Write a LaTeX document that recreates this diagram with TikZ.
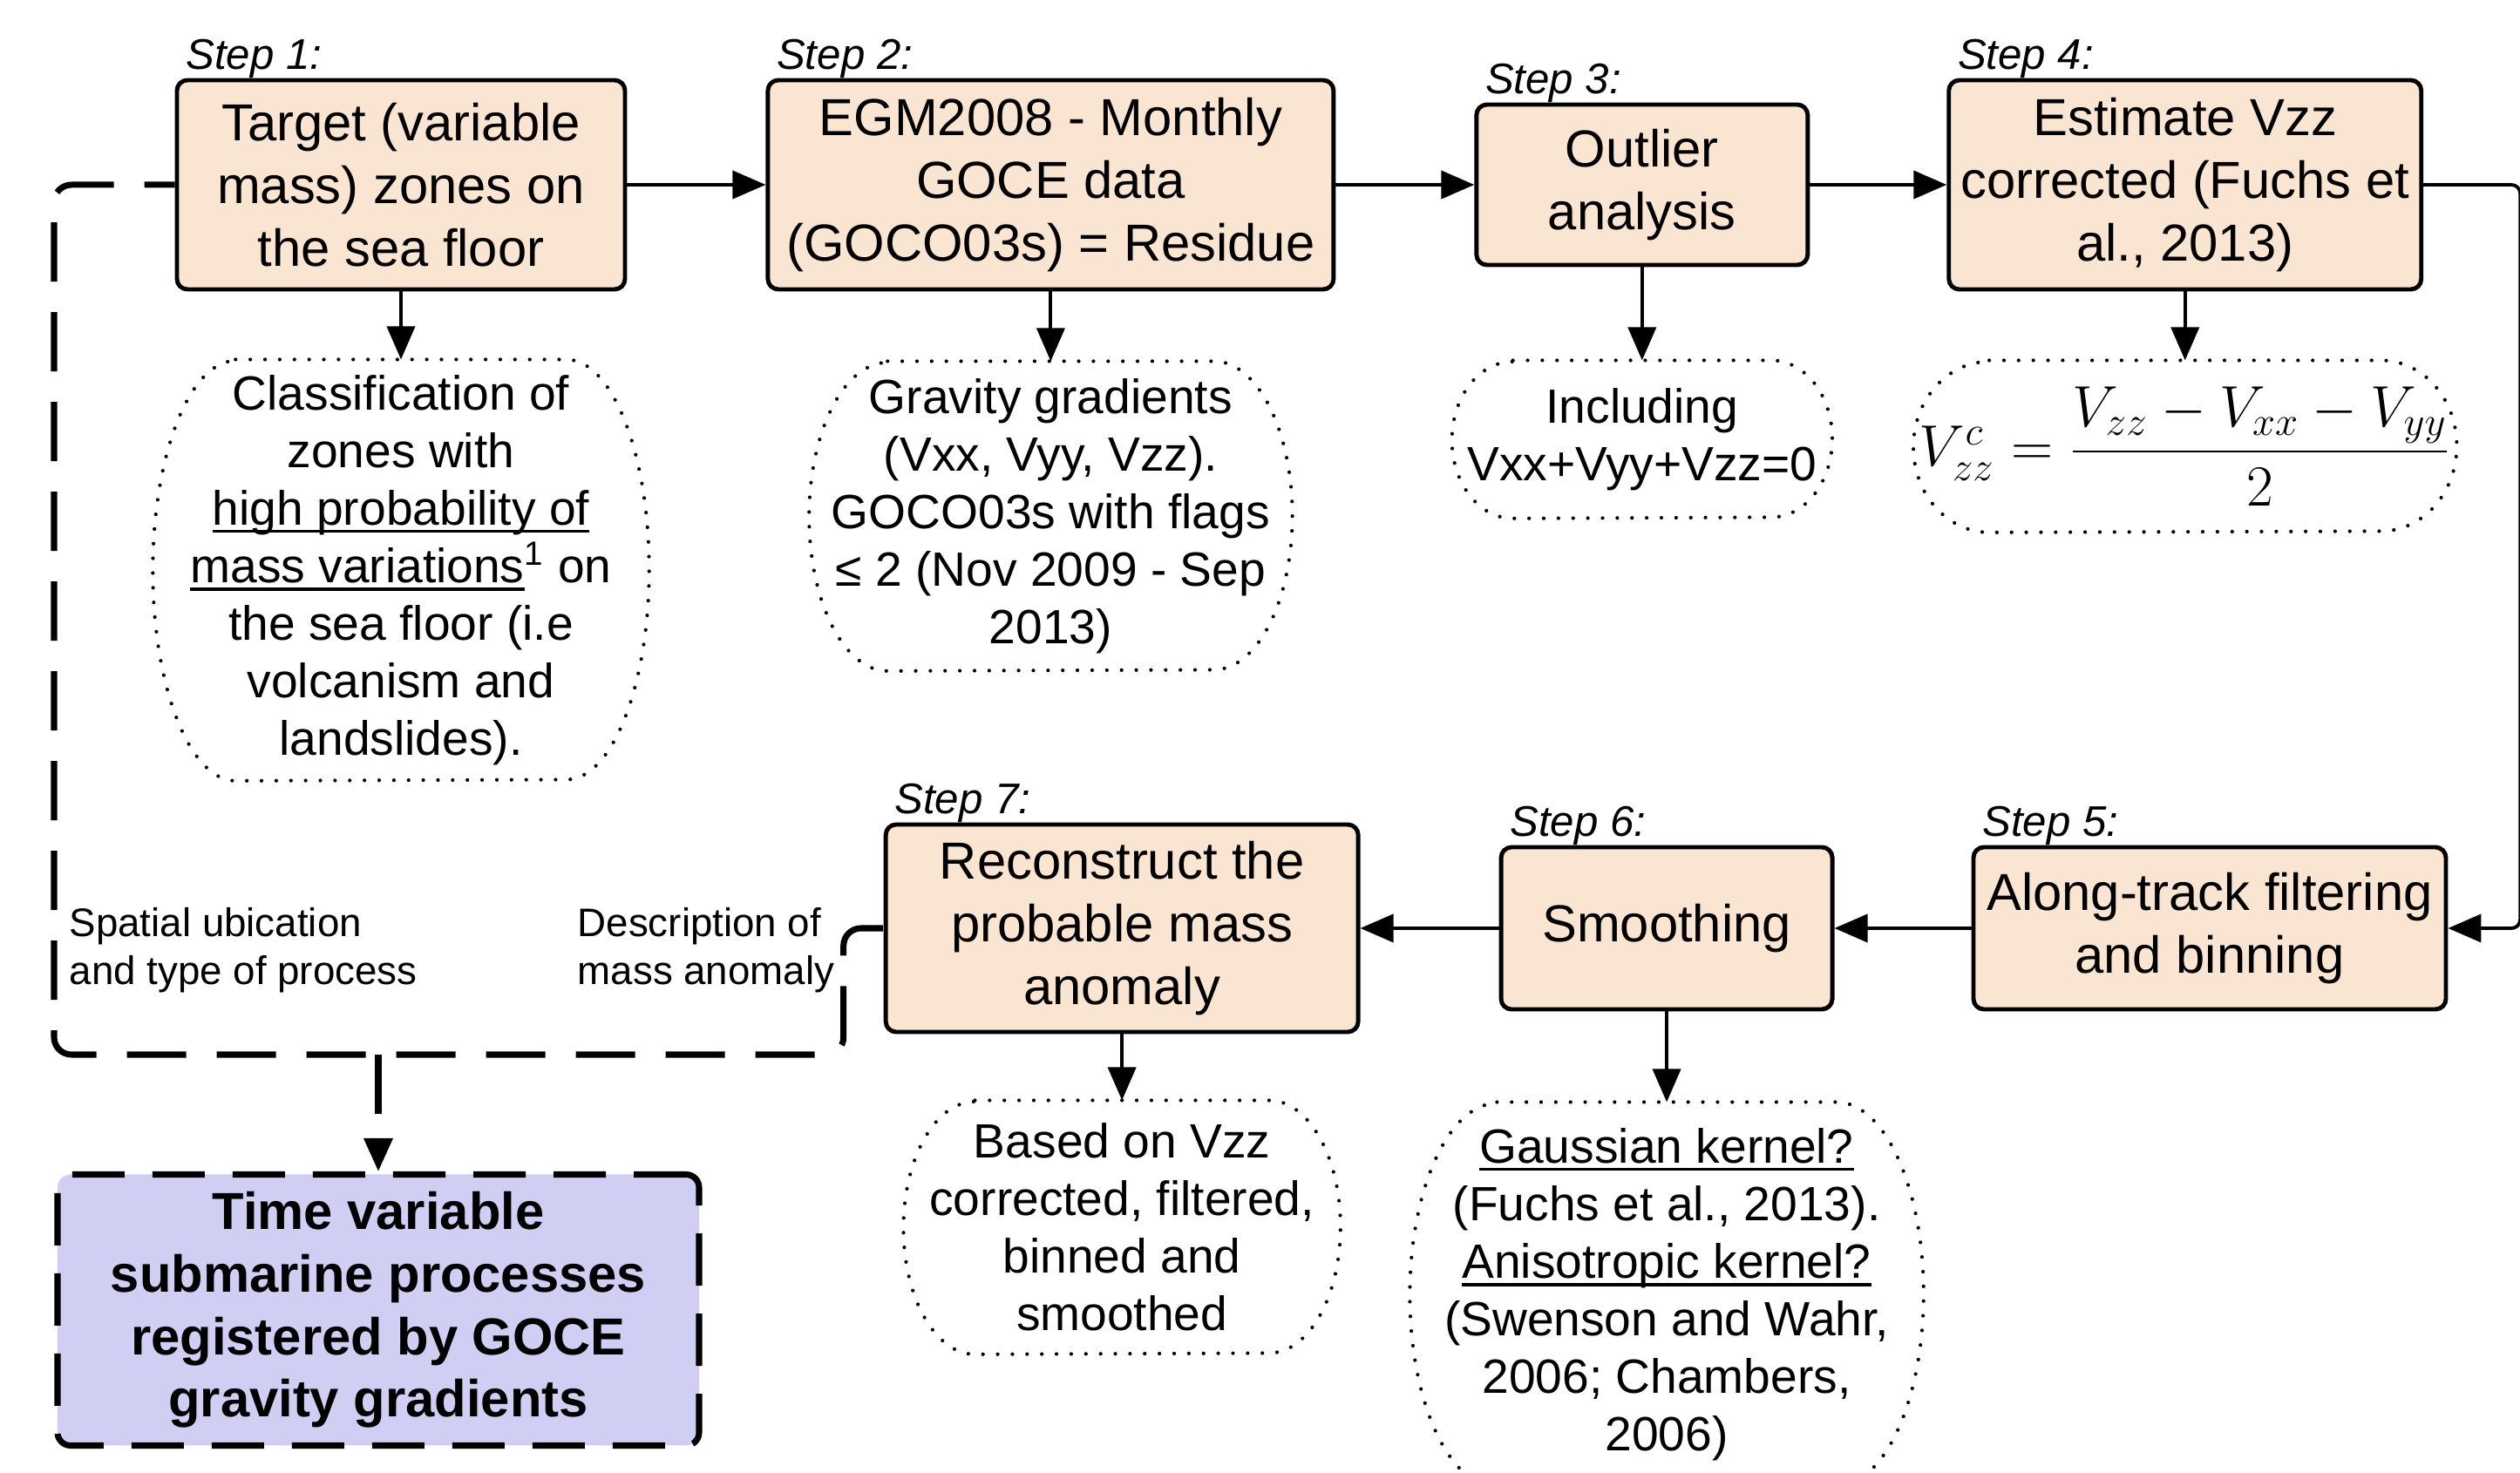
\RequirePackage{fix-cm}
\documentclass[tikz,border=0pt]{standalone}
\usepackage{amsmath}
\usepackage[no-math]{fontspec}
\setmainfont{Liberation Sans}
\usepackage{xcolor}
\usepackage{tikz}
\usetikzlibrary{arrows.meta, positioning, calc}

\definecolor{stepfill}{RGB}{250,229,211}
\definecolor{resultfill}{RGB}{209,206,243}

\newcommand{\boxfont}{\fontsize{17}{20.4}\selectfont}
\newcommand{\notefont}{\fontsize{15.7}{18.8}\selectfont}
\newcommand{\stepfont}{\fontsize{14}{16.8}\selectfont\itshape}
\newcommand{\tagfont}{\fontsize{13}{15.6}\selectfont}
% underlined words in the notes
\newcommand{\keyline}[1]{\leavevmode\setbox0=\hbox{#1}\rlap{\rule[-2.6pt]{\wd0}{0.9pt}}\box0}
% dotted outline round a note: node, end radius, half height
\newcommand{\noteoutline}[3]{%
  \draw[noteline] ([xshift=#2]#1.north west) -- ([xshift=-#2]#1.north east)
    arc[start angle=90, end angle=-90, x radius=#2, y radius=#3]
    -- ([xshift=#2]#1.south west)
    arc[start angle=270, end angle=90, x radius=#2, y radius=#3] -- cycle;}

\begin{document}
\begin{tikzpicture}[
    >={Triangle[length=0.38cm, width=0.32cm]},
    stepbox/.style={rectangle, draw, line width=1.4pt, fill=stepfill, rounded corners=0.12cm, inner sep=0pt, align=center, font=\boxfont},
    note/.style={rectangle, inner sep=0pt, align=center, font=\notefont},
    noteline/.style={line width=1.2pt, line cap=round, dash pattern=on 0pt off 4.8pt},
    steptag/.style={anchor=base west, inner sep=0pt, font=\stepfont},
    flow/.style={->, line width=1.1pt},
    loopline/.style={line width=2pt, dash pattern=on 0.68cm off 0.35cm},
    resultbox/.style={rectangle, draw, line width=2pt, dash pattern=on 0.6cm off 0.32cm, fill=resultfill, rounded corners=0.15cm, inner sep=0pt, align=center, font=\boxfont\bfseries},
    looptag/.style={anchor=west, inner sep=0pt, align=left, font=\tagfont},
]
    \useasboundingbox (0,0) rectangle (28.91,-16.90);
    \clip (0,0) rectangle (28.91,-16.90);

    % Top row
    \node[stepbox, minimum width=5.14cm, minimum height=2.40cm] (target) at (4.60,-2.12) {Target (variable\\mass) zones on\\the sea floor};
    \node[stepbox, minimum width=6.49cm, minimum height=2.40cm, right=1.59cm of target] (residue) {EGM2008 - Monthly\\GOCE data\\(GOCO03s) = Residue};
    \node[stepbox, minimum width=3.80cm, minimum height=1.84cm, right=1.59cm of residue] (outlier) {Outlier\\analysis};
    \node[stepbox, minimum width=5.42cm, minimum height=2.40cm, right=1.57cm of outlier] (vzz) {Estimate Vzz\\corrected (Fuchs et\\al., 2013)};

    % Bottom row, right to left
    \node[stepbox, minimum width=5.42cm, minimum height=1.86cm] (binning) at (25.35,-10.65) {Along-track filtering\\and binning};
    \node[stepbox, minimum width=3.80cm, minimum height=1.86cm, left=1.57cm of binning] (smooth) {Smoothing};
    \node[stepbox, minimum width=5.42cm, minimum height=2.38cm, left=1.59cm of smooth] (anomaly) {Reconstruct the\\probable mass\\anomaly};

    % Step tags
    \foreach \b/\k in {target/1, residue/2, outlier/3, vzz/4, binning/5, smooth/6, anomaly/7}
        \node[steptag] (tag\k) at ([shift={(0.12,0.10)}]\b.north west) {Step \k:};

    % Notes
    \node[note, minimum width=5.68cm, minimum height=4.82cm, below=0.78cm of target] (zones) {Classification of\\zones with\\\keyline{high probability of}\\\keyline{mass variations}\textsuperscript{1} on\\the sea floor (i.e\\volcanism and\\landslides).};
    \node[note, minimum width=5.53cm, minimum height=3.54cm, below=0.80cm of residue] (gradients) {Gravity gradients\\(Vxx, Vyy, Vzz).\\GOCO03s with flags\\≤ 2 (Nov 2009 - Sep\\2013)};
    \node[note, minimum width=4.35cm, minimum height=1.80cm, below=1.07cm of outlier] (trace) {Including\\Vxx+Vyy+Vzz=0};
    \node[note, minimum width=6.22cm, minimum height=1.96cm, below=0.79cm of vzz, font=\fontsize{19}{23}\selectfont] (formula) {$V_{zz}^{c} = \dfrac{V_{zz} - V_{xx} - V_{yy}}{2}$};
    \node[note, minimum width=5.00cm, minimum height=2.90cm, below=0.76cm of anomaly] (based) {Based on Vzz\\corrected, filtered,\\binned and\\smoothed};
    \node[note, minimum width=5.88cm, minimum height=4.40cm, below=1.04cm of smooth] (kernel) {\keyline{Gaussian kernel?}\\(Fuchs et al., 2013).\\\keyline{Anisotropic kernel?}\\(Swenson and Wahr,\\2006; Chambers,\\2006)};

    \foreach \e/\ra/\rb in {zones/0.95/2.41, gradients/0.90/1.77, trace/0.70/0.90, formula/0.87/0.98, based/0.82/1.45, kernel/1.00/2.20}
        {\noteoutline{\e}{\ra cm}{\rb cm}}

    % Result
    \node[resultbox, minimum width=7.36cm, minimum height=3.11cm] (result) at (4.34,-15.03) {Time variable\\submarine processes\\registered by GOCE\\gravity gradients};

    % Arrows
    \foreach \a/\b in {target/residue, residue/outlier, outlier/vzz, binning/smooth, smooth/anomaly}
        \draw[flow] (\a) -- (\b);
    \foreach \a/\b in {target/zones, residue/gradients, outlier/trace, vzz/formula, anomaly/based, smooth/kernel}
        \draw[flow] (\a) -- (\b);
    \coordinate (edge) at ([xshift=1.11cm]vzz.east);
    \draw[flow, rounded corners=0.1cm] (vzz) -- (edge) |- (binning);

    % Dashed loop back to step 1
    \coordinate (loopsw) at (0.62,-12.10);
    \coordinate (loopne) at ([xshift=-0.46cm]anomaly.west);
    \draw[loopline, dash phase=0.33cm, rounded corners=0.2cm] (target.west) -| (loopsw) -| (loopne) -- (anomaly.west);
    \node[looptag] (where) at (0.79,-10.90) {Spatial ubication\\and type of process};
    \node[looptag] (what) at (6.62,-10.90) {Description of\\mass anomaly};

    \coordinate (loopbase) at (result.north |- loopsw);
    \draw[loopline, ->] (loopbase) -- (result);
\end{tikzpicture}
\end{document}
